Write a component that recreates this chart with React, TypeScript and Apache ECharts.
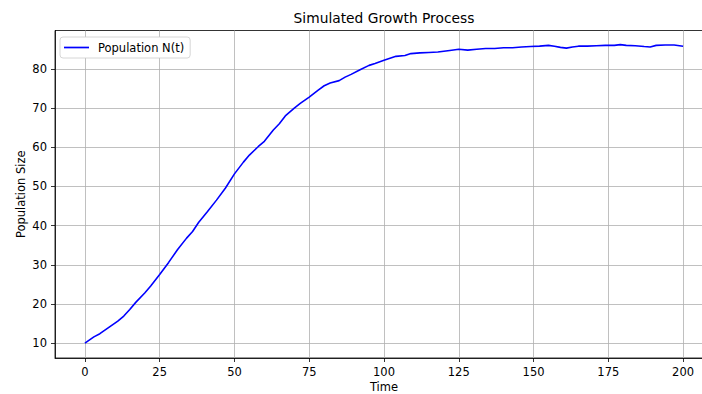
import React, { useEffect, useRef } from "react";
import * as echarts from "echarts";

const times = [
  0, 3, 5, 8, 11, 13, 15, 17, 20, 22, 25, 28, 31, 34, 36, 38, 41, 44, 47, 50,
  53, 55, 58, 60, 63, 65, 67, 70, 72, 75, 78, 80, 82, 85, 87, 89, 92, 95, 97,
  100, 102, 104, 107, 109, 112, 115, 118, 120, 122, 125, 128, 131, 134, 137,
  140, 143, 146, 149, 152, 155, 157, 159, 161, 163, 165, 168, 171, 174, 177,
  179, 181, 184, 187, 189, 191, 194, 197, 200,
];
const population = [
  10.0, 11.6, 12.4, 14.0, 15.6, 16.9, 18.6, 20.4, 22.8, 24.6, 27.5, 30.6, 33.9,
  36.8, 38.5, 40.8, 43.6, 46.5, 49.6, 53.2, 56.2, 58.0, 60.2, 61.5, 64.4, 66.0,
  68.0, 70.0, 71.2, 72.8, 74.6, 75.7, 76.4, 77.0, 77.9, 78.6, 79.8, 80.9, 81.4,
  82.2, 82.7, 83.2, 83.4, 83.9, 84.1, 84.2, 84.3, 84.5, 84.7, 85.0, 84.8, 85.0,
  85.2, 85.2, 85.4, 85.4, 85.6, 85.7, 85.8, 86.0, 85.8, 85.5, 85.3, 85.6, 85.8,
  85.8, 85.9, 86.0, 86.0, 86.2, 86.0, 85.9, 85.7, 85.6, 86.0, 86.1, 86.1, 85.8,
];
const xTicks = [0, 25, 50, 75, 100, 125, 150, 175, 200];
const yTicks = [10, 20, 30, 40, 50, 60, 70, 80];

const FONT = "DejaVu Sans";

export default function App() {
  const ref = useRef<HTMLDivElement>(null);
  useEffect(() => {
    document.body.style.margin = "0";
    const chart = echarts.init(ref.current!, null, { renderer: "svg" });
    const axisCommon = {
      type: "value" as const,
      nameLocation: "middle" as const,
      nameMoveOverlap: false,
      nameTextStyle: { fontFamily: FONT, fontSize: 11.5, color: "#000" },
      axisLine: { show: true, onZero: false, lineStyle: { color: "#000", width: 0.8 } },
      axisTick: { show: true, inside: false, length: 4, lineStyle: { color: "#000", width: 0.8 } },
      axisLabel: { fontFamily: FONT, fontSize: 11.5, color: "#000", margin: 8 },
      splitLine: { show: true, lineStyle: { color: "#b0b0b0", width: 0.8 } },
    };
    chart.setOption({
      animation: false,
      backgroundColor: "#fff",
      graphic: [
        {
          type: "text",
          x: 384,
          y: 18,
          style: {
            text: "Simulated Growth Process",
            fontFamily: FONT,
            fontSize: 13.8,
            fill: "#000",
            textAlign: "center",
            textVerticalAlign: "middle",
          },
        },
      ],
      grid: {
        left: 55,
        top: 30.5,
        width: 658,
        height: 327.5,
        show: true,
        borderColor: "#000",
        borderWidth: 0.8,
        containLabel: false,
        outerBoundsMode: "none",
      },
      legend: {
        left: 60,
        top: 37,
        orient: "vertical",
        data: ["Population N(t)"],
        icon: "rect",
        itemWidth: 25,
        itemHeight: 1.7,
        padding: [4, 6, 4, 4],
        borderColor: "#cccccc",
        borderWidth: 0.8,
        borderRadius: 3,
        backgroundColor: "#fff",
        textStyle: { fontFamily: FONT, fontSize: 11.5, color: "#000", lineHeight: 13, padding: [0, 0, 0, 4] },
      },
      xAxis: {
        ...axisCommon,
        min: -10,
        max: 210,
        name: "Time",
        nameGap: 23,
        axisTick: { ...axisCommon.axisTick, customValues: xTicks },
        axisLabel: { ...axisCommon.axisLabel, customValues: xTicks },
      },
      yAxis: {
        ...axisCommon,
        min: 6.2,
        max: 89.8,
        name: "Population Size",
        nameGap: 28,
        axisTick: { ...axisCommon.axisTick, customValues: yTicks },
        axisLabel: { ...axisCommon.axisLabel, customValues: yTicks },
      },
      series: [
        {
          name: "Population N(t)",
          type: "line",
          showSymbol: false,
          symbol: "none",
          data: times.map((t, i) => [t, population[i]]),
          lineStyle: { color: "#0000ff", width: 1.6 },
          itemStyle: { color: "#0000ff" },
        },
      ],
    });
    return () => chart.dispose();
  }, []);
  return (
    <div style={{ position: "fixed", left: 0, top: 0, width: 702, height: 394, overflow: "hidden" }}>
      <div ref={ref} style={{ width: 720, height: 394 }} />
    </div>
  );
}
